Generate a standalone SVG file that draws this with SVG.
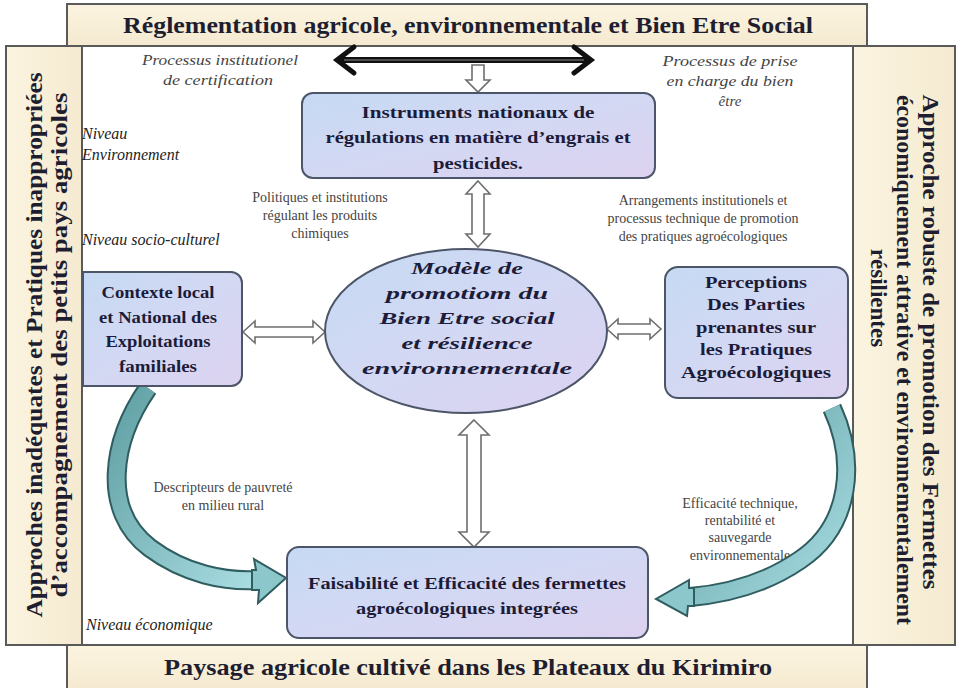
<svg xmlns="http://www.w3.org/2000/svg" width="960" height="688" viewBox="0 0 960 688">
<defs>
<linearGradient id="bar" x1="0" y1="0" x2="0" y2="1">
<stop offset="0" stop-color="#fbf4e0"/><stop offset="1" stop-color="#f5ead0"/>
</linearGradient>
<linearGradient id="barv" x1="0" y1="0" x2="1" y2="0">
<stop offset="0" stop-color="#fbf4e0"/><stop offset="1" stop-color="#f5ead0"/>
</linearGradient>
<linearGradient id="box" x1="0" y1="0" x2="1" y2="1">
<stop offset="0" stop-color="#c6daf3"/><stop offset="0.5" stop-color="#d3d8f3"/><stop offset="1" stop-color="#dcd2f0"/>
</linearGradient>
<linearGradient id="teal" x1="0" y1="0" x2="1" y2="1">
<stop offset="0" stop-color="#5f9fa3"/><stop offset="1" stop-color="#a9dde2"/>
</linearGradient>
<style>
.bar{fill:url(#bar);stroke:#5a5a5a;stroke-width:2}
.barv{fill:url(#barv);stroke:#5a5a5a;stroke-width:2}
.node{fill:url(#box);stroke:#4d5668;stroke-width:2}
.t{font-family:"Liberation Serif","Times New Roman",serif;font-weight:bold;fill:#1e1e30;text-anchor:middle}
.bt{font-family:"Liberation Serif","Times New Roman",serif;font-weight:bold;fill:#1c1c3a;text-anchor:middle;font-size:17px}
.lab{font-family:"Liberation Serif","Times New Roman",serif;fill:#444;text-anchor:middle;font-size:14px}
.ital{font-family:"Liberation Serif","Times New Roman",serif;font-style:italic;fill:#444;text-anchor:middle;font-size:15px}
.niv{font-family:"Liberation Serif","Times New Roman",serif;font-style:italic;fill:#222;font-size:16px}
.hollow{fill:#ffffff;stroke:#6e6e6e;stroke-width:1.6;stroke-linejoin:miter}
.band-o{fill:none;stroke:#2f5d60;stroke-width:20;stroke-linecap:butt}
.band-i{fill:none;stroke:url(#teal);stroke-width:16;stroke-linecap:butt}
.head{fill:#8cc7cc;stroke:#2f5d60;stroke-width:2;stroke-linejoin:miter}
</style>
</defs>
<rect x="0" y="0" width="960" height="688" fill="#ffffff"/>

<g id="bar-top">
<rect class="bar" x="67" y="4" width="800" height="42"/>
<text class="t" x="468" y="33" font-size="23" textLength="690" lengthAdjust="spacingAndGlyphs">Réglementation agricole, environnementale et Bien Etre Social</text>
</g>
<g id="bar-bottom">
<rect class="bar" x="67" y="645" width="800" height="44"/>
<text class="t" x="468" y="675" font-size="23" textLength="608" lengthAdjust="spacingAndGlyphs">Paysage agricole cultivé dans les Plateaux du Kirimiro</text>
</g>
<g id="bar-left">
<rect class="barv" x="6" y="46" width="76" height="599"/>
<text class="t" font-size="23" transform="translate(42,345) rotate(-90)" textLength="545" lengthAdjust="spacingAndGlyphs">Approches inadéquates et Pratiques inappropriées</text>
<text class="t" font-size="23" transform="translate(67,345) rotate(-90)" textLength="505" lengthAdjust="spacingAndGlyphs">d’accompagnement des petits pays agricoles</text>
</g>
<g id="bar-right">
<rect class="barv" x="853" y="46" width="102" height="599"/>
<text class="t" font-size="23" transform="translate(923,342) rotate(90)" textLength="495" lengthAdjust="spacingAndGlyphs">Approche robuste de promotion des Fermettes</text>
<text class="t" font-size="23" transform="translate(897,360) rotate(90)" textLength="530" lengthAdjust="spacingAndGlyphs">économiquement attrative et environnementalement</text>
<text class="t" font-size="23" transform="translate(871,298) rotate(90)">résilientes</text>
</g>

<g id="labels">
<text class="ital" x="220" y="65" textLength="156" lengthAdjust="spacingAndGlyphs">Processus institutionel</text>
<text class="ital" x="218" y="85" textLength="110" lengthAdjust="spacingAndGlyphs">de certification</text>
<text class="ital" x="730" y="66" textLength="135" lengthAdjust="spacingAndGlyphs">Processus de prise</text>
<text class="ital" x="730" y="86" textLength="127" lengthAdjust="spacingAndGlyphs">en charge du bien</text>
<text class="ital" x="730" y="106">être</text>
<text class="niv" x="82" y="139">Niveau</text>
<text class="niv" x="82" y="160">Environnement</text>
<text class="niv" x="82" y="245">Niveau socio-culturel</text>
<text class="niv" x="86" y="630">Niveau économique</text>
<text class="lab" x="320" y="202">Politiques et institutions</text>
<text class="lab" x="320" y="220">régulant les produits</text>
<text class="lab" x="320" y="238">chimiques</text>
<text class="lab" x="703" y="205">Arrangements institutionels et</text>
<text class="lab" x="703" y="223">processus technique de promotion</text>
<text class="lab" x="703" y="241">des pratiques agroécologiques</text>
<text class="lab" x="223" y="492">Descripteurs de pauvreté</text>
<text class="lab" x="223" y="510">en milieu rural</text>
<text class="lab" x="740" y="508">Efficacité technique,</text>
<text class="lab" x="740" y="525">rentabilité et</text>
<text class="lab" x="740" y="542">sauvegarde</text>
<text class="lab" x="740" y="560">environnementale</text>
</g>

<g id="connectors">
<!-- top black double arrow -->
<line x1="340" y1="60" x2="588" y2="60" stroke="#111" stroke-width="6"/>
<line x1="344" y1="60" x2="584" y2="60" stroke="#888" stroke-width="1.2"/>
<polyline points="354,47 337,60 354,73" fill="none" stroke="#111" stroke-width="5" stroke-linecap="round" stroke-linejoin="miter"/>
<polyline points="574,47 591,60 574,73" fill="none" stroke="#111" stroke-width="5" stroke-linecap="round" stroke-linejoin="miter"/>
<!-- small hollow down arrow -->
<polygon class="hollow" points="472,65 484,65 484,80 490,80 478,92 466,80 472,80"/>
<!-- instruments <-> ellipse -->
<polygon class="hollow" points="478,181 490,194 484,194 484,234 490,234 478,247 466,234 472,234 472,194 466,194"/>
<!-- left box <-> ellipse -->
<polygon class="hollow" points="243,332 255,321 255,327 313,327 313,321 325,332 313,343 313,337 255,337 255,343"/>
<!-- ellipse <-> right box -->
<polygon class="hollow" points="607,329 618,319 618,324 650,324 650,319 661,329 650,339 650,334 618,334 618,339"/>
<!-- ellipse <-> bottom box -->
<polygon class="hollow" points="474,420 489,435 481,435 481,532 489,532 474,547 459,532 467,532 467,435 459,435"/>
<!-- left curved arrow -->
<path class="band-o" d="M148,388 C112,440 100,510 150,548 C185,574 225,582 258,580"/>
<path class="band-i" d="M148,388 C112,440 100,510 150,548 C185,574 225,582 258,580"/>
<polygon class="head" points="254,559 286,578 258,603 259,590 252,590 252,570 256,570"/>
<!-- right curved arrow -->
<path class="band-o" d="M832,408 C856,460 852,525 800,560 C765,584 725,594 690,597"/>
<path class="band-i" d="M832,408 C856,460 852,525 800,560 C765,584 725,594 690,597"/>
<polygon class="head" points="689,580 656,599 687,616 688,606 694,606 694,588 689,588"/>
</g>

<g id="node-instruments">
<rect class="node" x="302" y="93" width="353" height="85" rx="11"/>
<text class="bt" x="478" y="118" textLength="233" lengthAdjust="spacingAndGlyphs">Instruments nationaux de</text>
<text class="bt" x="478" y="143" textLength="305" lengthAdjust="spacingAndGlyphs">régulations en matière d’engrais et</text>
<text class="bt" x="478" y="169" textLength="90" lengthAdjust="spacingAndGlyphs">pesticides.</text>
</g>
<g id="node-modele">
<ellipse class="node" cx="466" cy="331" rx="141" ry="82"/>
<text class="bt" font-style="italic" font-size="18" x="467" y="274" textLength="112" lengthAdjust="spacingAndGlyphs">Modèle de</text>
<text class="bt" font-style="italic" font-size="18" x="467" y="299" textLength="162" lengthAdjust="spacingAndGlyphs">promotiom du</text>
<text class="bt" font-style="italic" font-size="18" x="467" y="324" textLength="175" lengthAdjust="spacingAndGlyphs">Bien Etre social</text>
<text class="bt" font-style="italic" font-size="18" x="467" y="349" textLength="131" lengthAdjust="spacingAndGlyphs">et résilience</text>
<text class="bt" font-style="italic" font-size="18" x="467" y="374" textLength="210" lengthAdjust="spacingAndGlyphs">environnementale</text>
</g>
<g id="node-contexte">
<path class="node" d="M83,272 H231 A11,11 0 0 1 242,283 V375 A11,11 0 0 1 231,386 H83 Z"/>
<text class="bt" font-size="16" x="158" y="298" textLength="113" lengthAdjust="spacingAndGlyphs">Contexte local</text>
<text class="bt" font-size="16" x="158" y="323" textLength="118" lengthAdjust="spacingAndGlyphs">et National des</text>
<text class="bt" font-size="16" x="158" y="347" textLength="105" lengthAdjust="spacingAndGlyphs">Exploitations</text>
<text class="bt" font-size="16" x="158" y="372" textLength="78" lengthAdjust="spacingAndGlyphs">familiales</text>
</g>
<g id="node-perceptions">
<rect class="node" x="665" y="267" width="183" height="131" rx="13"/>
<text class="bt" font-size="16.5" x="756" y="288" textLength="102" lengthAdjust="spacingAndGlyphs">Perceptions</text>
<text class="bt" font-size="16.5" x="756" y="310" textLength="98" lengthAdjust="spacingAndGlyphs">Des Parties</text>
<text class="bt" font-size="16.5" x="756" y="333" textLength="120" lengthAdjust="spacingAndGlyphs">prenantes sur</text>
<text class="bt" font-size="16.5" x="756" y="355" textLength="112" lengthAdjust="spacingAndGlyphs">les Pratiques</text>
<text class="bt" font-size="16.5" x="756" y="378" textLength="150" lengthAdjust="spacingAndGlyphs">Agroécologiques</text>
</g>
<g id="node-faisabilite">
<rect class="node" x="287" y="547" width="361" height="91" rx="12"/>
<text class="bt" x="467" y="589" textLength="318" lengthAdjust="spacingAndGlyphs">Faisabilité et Efficacité des fermettes</text>
<text class="bt" x="467" y="614" textLength="222" lengthAdjust="spacingAndGlyphs">agroécologiques integrées</text>
</g>
</svg>
